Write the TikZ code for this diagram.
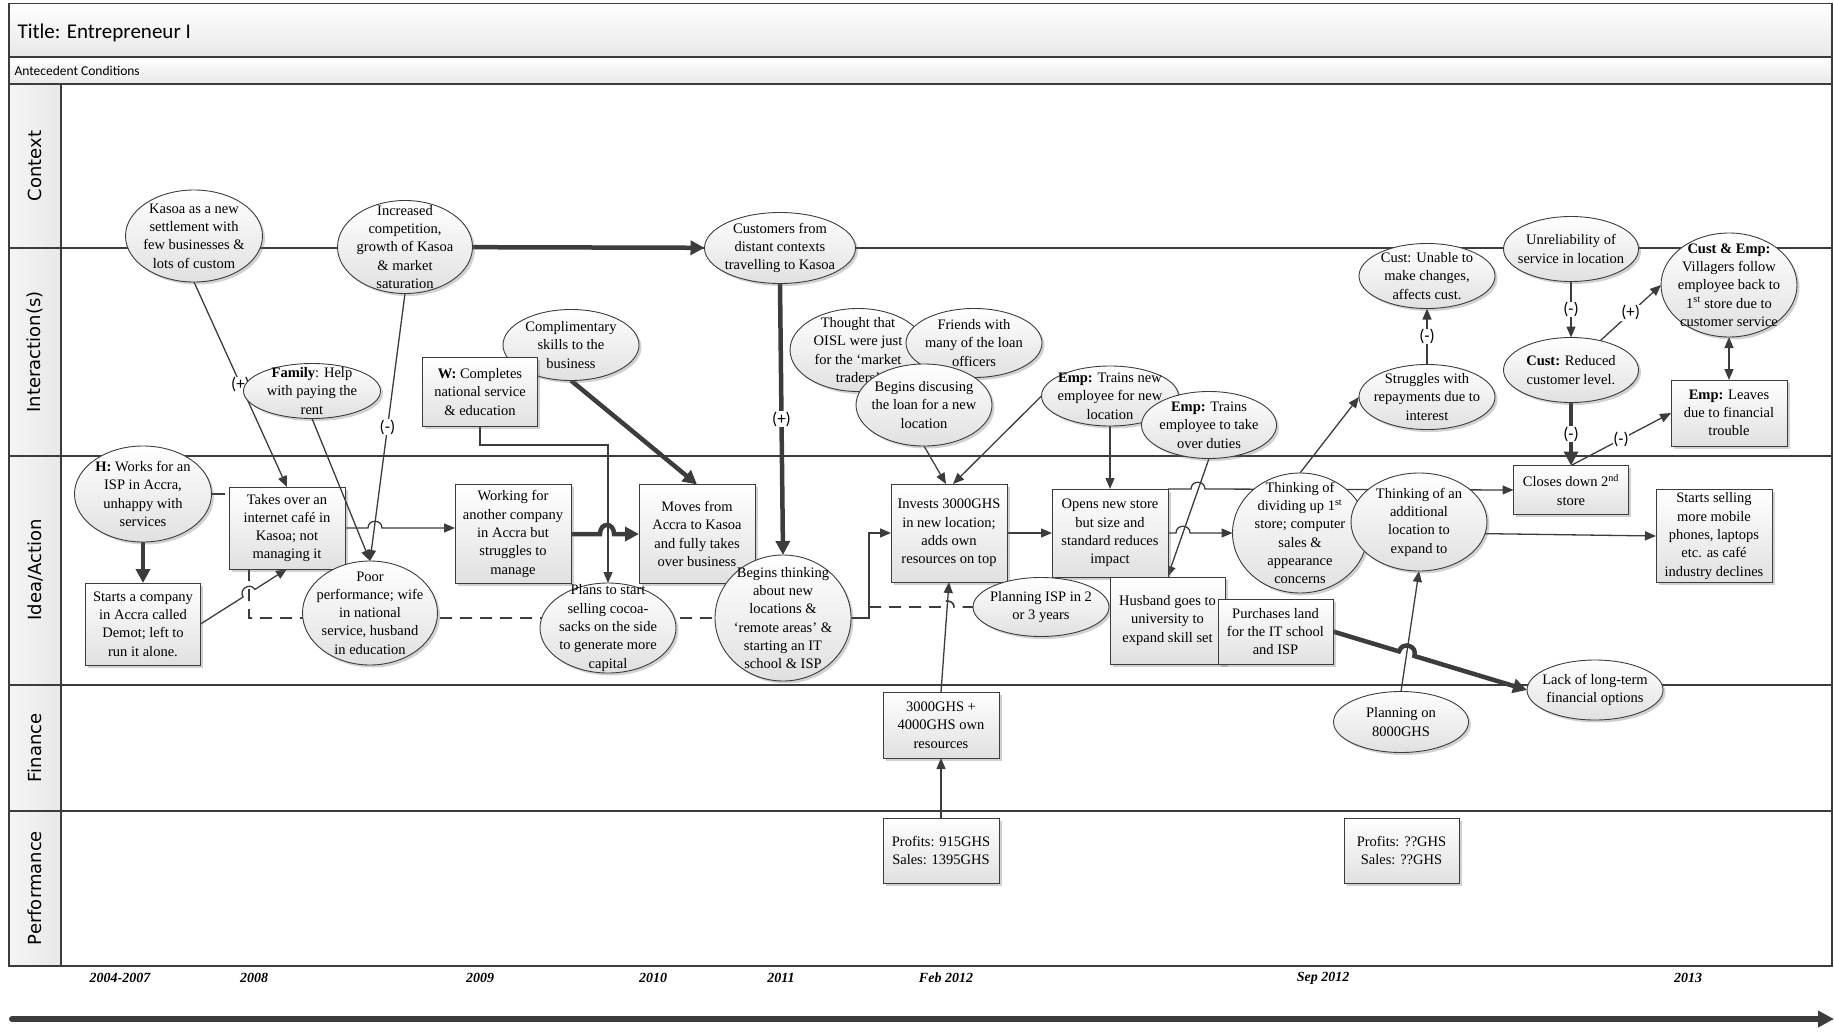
\documentclass[tikz,border=0pt]{standalone}
\usepackage{fontspec}
\setmainfont{Liberation Serif}
\newfontfamily\lanefont{DejaVu Sans}
\newfontfamily\uifont{Carlito}
\usetikzlibrary{shapes.geometric,arrows.meta,shadows,calc}
\definecolor{ink}{HTML}{3C3C3C}
\pgfdeclarelayer{lanes}
\pgfdeclarelayer{links}
\pgfsetlayers{lanes,links,main}
\newcommand\bodyfont{\fontsize{14.5}{18.3}\selectfont}
\tikzset{
  shapebase/.style={draw=ink, line width=0.9pt, top color=white, bottom color=black!12,
    drop shadow={shadow xshift=2.5pt, shadow yshift=-2.5pt, opacity=0.3, fill=black!60}},
  ell/.style={shapebase, ellipse, inner sep=0pt, outer sep=0pt},
  card/.style={shapebase, rectangle, inner sep=0pt, outer sep=0pt, align=center, font=\bodyfont},
  words/.style={align=center, inner sep=0pt, font=\bodyfont},
  link/.style={draw=ink, line width=1.3pt, -{Triangle[length=11pt,width=9pt]}},
  twoway/.style={draw=ink, line width=1.3pt, {Triangle[length=11pt,width=9pt]}-{Triangle[length=11pt,width=9pt]}},
  plainlink/.style={draw=ink, line width=1.3pt},
  heavy/.style={draw=ink, line width=4.5pt, -{Triangle[length=14pt,width=14pt]}},
  dashlink/.style={draw=ink, line width=1.7pt, dash pattern=on 12pt off 8pt},
  sign/.style={font=\uifont\fontsize{17}{18}\selectfont, fill=white, inner sep=0.6pt},
  lanelabel/.style={rotate=90, font=\lanefont\fontsize{18}{20}\selectfont},
  year/.style={font=\bfseries\itshape\fontsize{14}{16}\selectfont},
  laneline/.style={draw=ink, line width=1.3pt},
}
% ellipse with its text set on top as a separate node
\newcommand\Bub[6]{%
  \node[ell, minimum width=#4pt, minimum height=#5pt] (#1) at (#2,#3) {};
  \node[words] (#1-t) at (#1.center) {#6};}

\begin{document}
\begin{tikzpicture}[x=1pt,y=-1pt]
\useasboundingbox (0,0) rectangle (1834,1033);

% ---------------- swimlane frame ----------------
\begin{pgfonlayer}{lanes}
  \fill[top color=white, bottom color=black!9] (9,3.5) rectangle (1832,57);
  \fill[top color=white, bottom color=black!9] (9,57) rectangle (1832,84);
  \fill[left color=black!4, right color=black!9] (9,84) rectangle (61,966);
  \draw[laneline] (9,3.5) rectangle (1832,966);
  \draw[laneline] (9,57) -- (1832,57);
  \draw[laneline] (9,84) -- (1832,84);
  \draw[laneline] (61,84) -- (61,966);
  \draw[laneline] (9,248) -- (1832,248);
  \draw[laneline] (9,456) -- (1832,456);
  \draw[laneline] (9,685) -- (1832,685);
  \draw[laneline] (9,811) -- (1832,811);
\end{pgfonlayer}

\node[anchor=west, font=\uifont\fontsize{21}{24}\selectfont] (title) at (14,32.5) {Title: Entrepreneur I};
\node[anchor=west, font=\uifont\fontsize{13.5}{15}\selectfont] (antec) at (11,70.5) {Antecedent Conditions};

\node[lanelabel] (lane-ctx) at (35,166) {Context};
\node[lanelabel] (lane-int) at (35,352) {Interaction(s)};
\node[lanelabel] (lane-idea) at (35,570) {Idea/Action};
\node[lanelabel] (lane-fin) at (35,748) {Finance};
\node[lanelabel] (lane-perf) at (35,888) {Performance};

% ---------------- context / interaction ----------------
\Bub{kasoa}{194}{236}{137}{92}{Kasoa as a new\\settlement with\\few businesses \&\\lots of custom}
\Bub{comp}{405}{247}{135}{93}{Increased\\competition,\\growth of Kasoa\\\& market\\saturation}
\Bub{cust}{780}{248}{151}{71}{Customers from\\distant contexts\\travelling to Kasoa}
\Bub{unable}{1427}{276}{136}{65}{Cust: Unable to\\make changes,\\affects cust.}
\Bub{unrel}{1571}{249}{135}{65}{Unreliability of\\service in location}
\Bub{custemp}{1729}{285}{136}{104}{\textbf{Cust \& Emp:}\\Villagers follow\\employee back to\\1\textsuperscript{st} store due to\\customer service}

\Bub{family}{312}{391}{137}{55}{\textbf{Family}: Help\\with paying the\\rent}
\Bub{compl}{571}{345}{136}{71}{Complimentary\\skills to the\\business}
\node[card, minimum width=115pt, minimum height=69pt] (W) at (480,392) {\textbf{W:} Completes\\national service\\\& education};
\Bub{thought}{858}{350}{136}{83}{Thought that\\OISL were just\\for the `market\\traders'}
\Bub{friends}{974}{343}{136}{69}{Friends with\\many of the loan\\officers}
\Bub{begin}{924}{405}{136}{82}{Begins discusing\\the loan for a new\\location}
\Bub{emptrain}{1110}{396}{137}{60}{\textbf{Emp:} Trains new\\employee for new\\location}
\Bub{emptake}{1209}{425}{135}{67}{\textbf{Emp:} Trains\\employee to take\\over duties}
\Bub{struggle}{1427}{397}{136}{65}{Struggles with\\repayments due to\\interest}
\Bub{custred}{1571}{370}{135}{65}{\textbf{Cust:} Reduced\\customer level.}
\node[card, minimum width=116pt, minimum height=66pt] (empleave) at (1729,413) {\textbf{Emp:} Leaves\\due to financial\\trouble};

% ---------------- idea / action ----------------
\Bub{H}{143}{494}{137}{96}{\textbf{H:} Works for an\\ISP in Accra,\\unhappy with\\services}
\node[card, minimum width=115pt, minimum height=82pt] (start) at (143,624) {Starts a company\\in Accra called\\Demot; left to\\run it alone.};
\node[card, minimum width=116pt, minimum height=82pt] (takes) at (287,528) {Takes over an\\internet café in\\Kasoa; not\\managing it};
\Bub{poor}{370}{613}{135}{104}{Poor\\performance; wife\\in national\\service, husband\\in education}
\node[card, minimum width=116pt, minimum height=99pt] (working) at (513,534) {Working for\\another company\\in Accra but\\struggles to\\manage};
\Bub{plans}{608}{628}{136}{90}{Plans to start\\selling cocoa-\\sacks on the side\\to generate more\\capital}
\node[card, minimum width=116pt, minimum height=99pt] (moves) at (697,534) {Moves from\\Accra to Kasoa\\and fully takes\\over business};
\Bub{begthink}{783}{618}{136}{126}{Begins thinking\\about new\\locations \&\\`remote areas' \&\\starting an IT\\school \& ISP}
\node[card, minimum width=116pt, minimum height=98pt] (invest) at (949,533) {Invests 3000GHS\\in new location;\\adds own\\resources on top};
\node[card, minimum width=116pt, minimum height=88pt] (opens) at (1110,533) {Opens new store\\but size and\\standard reduces\\impact};
\Bub{planISP}{1041}{607}{136}{59}{Planning ISP in 2\\or 3 years}
\node[card, minimum width=115pt, minimum height=87pt] (husband) at (1167.5,620.5) {Husband goes to\\university to\\expand skill set};
\node[card, minimum width=115pt, minimum height=65pt] (purchases) at (1275.5,631.5) {Purchases land\\for the IT school\\and ISP};
\Bub{dividing}{1300}{533}{135}{120}{Thinking of\\dividing up 1\textsuperscript{st}\\store; computer\\sales \&\\appearance\\concerns}
\Bub{additional}{1419}{522}{136}{98}{Thinking of an\\additional\\location to\\expand to}
\node[card, minimum width=115pt, minimum height=49pt] (closes) at (1571,490) {Closes down 2\textsuperscript{nd}\\store};
\node[card, minimum width=116pt, minimum height=93pt] (startsell) at (1714,536) {Starts selling\\more mobile\\phones, laptops\\etc. as café\\industry declines};

% ---------------- finance / performance ----------------
\Bub{lack}{1595}{690}{136}{60}{Lack of long-term\\financial options}
\Bub{plan8000}{1401}{722}{135}{61}{Planning on\\8000GHS}
\node[card, minimum width=116pt, minimum height=66pt] (fin) at (941,725) {3000GHS +\\4000GHS own\\resources};
\node[card, minimum width=116pt, minimum height=65pt] (perf1) at (941,850.5) {Profits: 915GHS\\Sales: 1395GHS};
\node[card, minimum width=115pt, minimum height=65pt] (perf2) at (1401.5,850.5) {Profits: ??GHS\\Sales: ??GHS};

\coordinate (hstub) at (225,494);

% ---------------- connectors ----------------
\begin{pgfonlayer}{links}
  \draw[heavy] (comp) -- (cust);
  \draw[link] (kasoa.south) -- node[sign]{(+)} (takes.north);
  \draw[link] (comp.south) -- node[sign]{(-)} (poor.north);
  \draw[heavy] (H.south) -- (start.north);
  \draw[plainlink] (H.east) -- (hstub);
  \draw[link] (start.east) -- (243.1,597.0) .. controls (238.3,589.4) and (250.1,581.8) .. (254.9,589.4) -- (takes.south);
  \draw[link] (takes.east) -- (368,528) .. controls (368,519) and (382,519) .. (382,528) -- (working.west |- takes.east);
  \draw[link] (W.south) -- ++(0,18.5) -| (plans.north);
  \draw[heavy] (compl.south) -- (moves.north);
  \draw[heavy] (working.east) -- (600,534) .. controls (600,522) and (614,522) .. (614,534) -- (moves.west);
  \draw[heavy] (cust.south) -- node[sign]{(+)} (begthink.north);
  \draw[link] (begthink.east) -- ++(18,0) |- (invest.west);
  \draw[dashlink] ($(takes.south west)+(20,0)$) -- ++(0,49) -- (869,618) -- (869,607) -- (940,607)
        .. controls (940,599) and (954,599) .. (954,607) -- (planISP.west);
  \draw[link] (fin.north) -- (invest.south);
  \draw[link] (perf1.north) -- (fin.south);
  \draw[link] (begin.south) -- ($(invest.north)+(-3,0)$);
  \draw[link] (emptrain.west) -- ($(invest.north)+(4,0)$);
  \draw[link] (emptrain.south) -- (opens.north);
  \draw[link] (invest.east) -- (opens.west);
  \draw[link] (emptake.south) -- (husband.north);
  \draw[link] (opens.north east) -- (1191,489) .. controls (1191,480) and (1205,480) .. (1205,489) -- (closes.west);
  \draw[link] (opens.east) -- (1176,533) .. controls (1176,524) and (1190,524) .. (1190,533) -- (dividing.west);
  \draw[link] (dividing.north) -- (struggle.west);
  \draw[link] (struggle.north) -- node[sign]{(-)} (unable.south);
  \draw[link] (unrel.south) -- node[sign]{(-)} (custred.north);
  \draw[link] (custred.45) -- node[sign]{(+)} (custemp.west);
  \draw[twoway] (custemp.south) -- (empleave.north);
  \draw[heavy] (custred.south) -- node[sign]{(-)} (closes.north);
  \draw[link] (closes.north) -- node[sign]{(-)} (empleave.west);
  \draw[link] (additional.-10) -- (startsell.west);
  \draw[heavy] (purchases.east) -- (1399.0,651.4) .. controls (1402.2,640.9) and (1417.6,645.5) .. (1414.4,656.0) -- (lack.west);
  \draw[link] (plan8000.north) -- (additional.south);
\end{pgfonlayer}
% this one runs over the corner of the café box
\draw[link] (family.south) -- (poor.north);

% ---------------- time axis ----------------
\node[year] (yr1) at (120,978) {2004-2007};
\node[year] (yr2) at (254,978) {2008};
\node[year] (yr3) at (480,978) {2009};
\node[year] (yr4) at (653,978) {2010};
\node[year] (yr5) at (781,978) {2011};
\node[year] (yr6) at (946,978) {Feb 2012};
\node[year] (yr7) at (1323,978) {Sep 2012};
\node[year] (yr8) at (1688,978) {2013};
\coordinate (axis-a) at (12,1019);
\coordinate (axis-b) at (1834,1019);
\draw[draw=ink, line width=6pt, line cap=round, -{Triangle[length=16pt,width=16pt]}] (axis-a) -- (axis-b);
\end{tikzpicture}
\end{document}
